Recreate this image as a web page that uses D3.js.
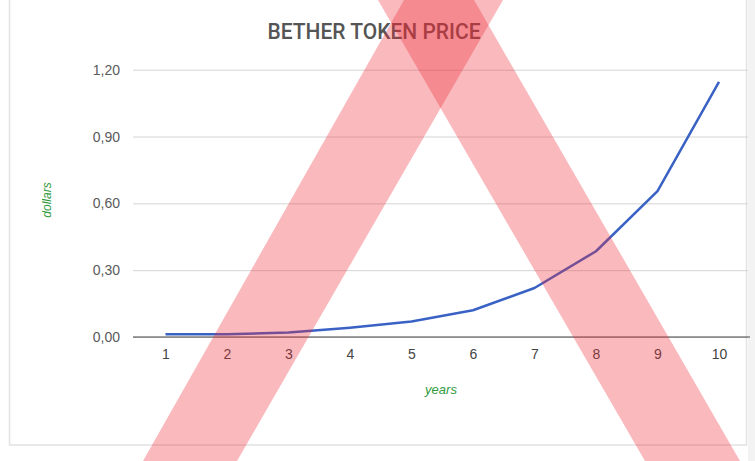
<!DOCTYPE html>
<html>
<head>
<meta charset="utf-8">
<script src="https://cdn.jsdelivr.net/npm/d3@7"></script>
<style>
  body { margin: 0; background: #fff; }
  svg { display: block; }
</style>
</head>
<body>
<svg id="chart" width="755" height="461"></svg>
<script>
// data
var years = [1, 2, 3, 4, 5, 6, 7, 8, 9, 10];
var price = [0.012, 0.012, 0.02, 0.042, 0.07, 0.12, 0.22, 0.385, 0.655, 1.145];
var yTicks = [0, 0.3, 0.6, 0.9, 1.2];
var title = "BETHER TOKEN PRICE";

var svg = d3.select("#chart");

// frame
svg.append("rect")
    .attr("x", 9.5).attr("y", -2).attr("width", 737).attr("height", 447)
    .attr("fill", "none").attr("stroke", "#e2e2e2").attr("stroke-width", 1.5);
svg.append("rect")
    .attr("x", 748).attr("y", 0).attr("width", 7).attr("height", 461)
    .attr("fill", "#f3f3f3");

var plotLeft = 133, plotRight = 748;

var x = d3.scaleLinear().domain([1, 10]).range([165.5, 719]);
var y = d3.scaleLinear().domain([0, 1.2]).range([337, 69.7]);

// y axis with grid lines
var fmt = function(d) { return d3.format(".2f")(d).replace(".", ","); };
var gy = svg.append("g")
    .attr("transform", "translate(" + plotLeft + ",0)")
    .call(d3.axisLeft(y).tickValues(yTicks).tickFormat(fmt)
        .tickSizeInner(-(plotRight - plotLeft)).tickSizeOuter(0).tickPadding(13));
gy.select(".domain").remove();
gy.selectAll("line").attr("stroke", "#d4d4d4");
gy.selectAll("text").attr("fill", "#5a5a5a").style("font", "14px Arial, 'Liberation Sans', sans-serif");

// x axis
var gx = svg.append("g")
    .attr("transform", "translate(0," + y(0) + ")")
    .call(d3.axisBottom(x).tickValues(years).tickFormat(d3.format("d"))
        .tickSize(0).tickPadding(12));
gx.select(".domain").remove();
gx.selectAll("text").attr("fill", "#444").style("font", "14px Arial, 'Liberation Sans', sans-serif");

// baseline
svg.append("line")
    .attr("x1", plotLeft).attr("x2", 750)
    .attr("y1", y(0)).attr("y2", y(0))
    .attr("stroke", "#444").attr("stroke-width", 1.2);

// the price line
var line = d3.line()
    .x(function(d, i) { return x(years[i]); })
    .y(function(d) { return y(d); });
svg.append("path")
    .datum(price)
    .attr("fill", "none")
    .attr("stroke", "#3a62c4")
    .attr("stroke-width", 2.5)
    .attr("stroke-linejoin", "round")
    .attr("d", line);

// axis titles
svg.append("text")
    .attr("transform", "translate(51,200) rotate(-90)")
    .attr("text-anchor", "middle")
    .attr("fill", "#2f9a3c")
    .style("font", "italic 12px Arial, 'Liberation Sans', sans-serif")
    .text("dollars");
svg.append("text")
    .attr("x", 441).attr("y", 394)
    .attr("text-anchor", "middle")
    .attr("fill", "#2f9a3c")
    .style("font", "italic 13px Arial, 'Liberation Sans', sans-serif")
    .text("years");

// chart title
svg.append("text")
    .attr("x", 374).attr("y", 38.5)
    .attr("text-anchor", "middle")
    .attr("fill", "#555")
    .attr("textLength", 213)
    .attr("lengthAdjust", "spacingAndGlyphs")
    .style("font", "500 22px Roboto, 'Liberation Sans Narrow', sans-serif")
    .text(title);

// red cross laid over the picture
var bands = [
    [[404, 0], [503, 0], [237, 461], [143, 461]],
    [[378, 0], [474, 0], [740, 461], [645, 461]]
];
svg.append("g").selectAll("path")
    .data(bands)
    .join("path")
    .attr("d", function(d) { return "M" + d.join("L") + "Z"; })
    .attr("fill", "rgb(237,43,55)")
    .attr("fill-opacity", 0.33);
</script>
</body>
</html>
